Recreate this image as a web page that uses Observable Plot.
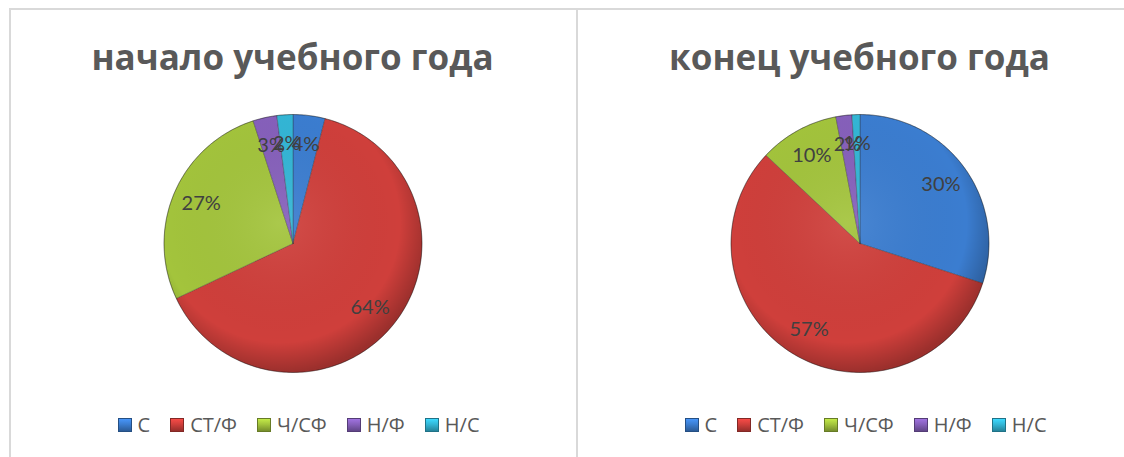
<!DOCTYPE html>
<html><head><meta charset="utf-8">
<script src="https://cdn.jsdelivr.net/npm/d3@7"></script>
<script src="https://cdn.jsdelivr.net/npm/@observablehq/plot@0.6"></script>
<style>
body{margin:0;background:#fff;width:1124px;height:457px;overflow:hidden;position:relative;font-family:"Open Sans",sans-serif}
.frame{position:absolute;left:9px;top:8px;width:1200px;height:460px;border-top:2px solid #d9d9d9;border-left:2px solid #d9d9d9;box-sizing:border-box}
.divider{position:absolute;left:576px;top:8px;width:2px;height:460px;background:#d9d9d9}
.panel{position:absolute;top:10px;width:567px;height:447px}
.title{position:absolute;top:29px;left:0;width:100%;text-align:center;font-weight:700;font-size:35px;line-height:36px;color:#595959;white-space:nowrap}
.chart{position:absolute;top:83px;left:0}
.legend{position:absolute;top:405px;left:6px;width:100%;display:flex;justify-content:center;align-items:center;font-size:20px;line-height:20px;color:#595959}
.item{display:flex;align-items:center;margin:0 10px}
.sw{width:14px;height:14px;margin-right:6px;box-sizing:border-box}
</style></head>
<body>
<div class="frame"></div>
<div class="divider"></div>
<div id="p0" class="panel" style="left:9px"></div>
<div id="p1" class="panel" style="left:576px"></div>
<script>
const categories = ["С", "СТ/Ф", "Ч/СФ", "Н/Ф", "Н/С"];
const startValues = [4, 64, 27, 3, 2];
const endValues = [30, 57, 10, 2, 1];
const titles = ["начало учебного года", "конец учебного года"];
const colors = ["#3b7dd0", "#cf3f3b", "#a3c43c", "#8660bb", "#33b6d6"];

const W = 567, H = 300, R = 129, RL = 100;

function pieChart(values) {
  const rows = categories.map((c, i) => ({cat: c, value: values[i]}));
  const arcs = d3.pie().sort(null).value(d => d.value)(rows);
  const pts = [];
  const labels = [];
  arcs.forEach(a => {
    const c = a.data.cat;
    pts.push({cat: c, x: 0, y: 0});
    const n = Math.max(2, Math.ceil((a.endAngle - a.startAngle) / (Math.PI / 180)));
    for (let k = 0; k <= n; k++) {
      const t = a.startAngle + (a.endAngle - a.startAngle) * k / n;
      pts.push({cat: c, x: R * Math.sin(t), y: R * Math.cos(t)});
    }
    pts.push({cat: c, x: 0, y: 0});
    const m = (a.startAngle + a.endAngle) / 2;
    labels.push({cat: c, x: RL * Math.sin(m), y: RL * Math.cos(m), text: a.data.value + "%"});
  });
  const gid = "shade" + values.join("");
  return Plot.plot({
    width: W, height: H, margin: 0,
    x: {domain: [-W / 2, W / 2], axis: null},
    y: {domain: [-H / 2, H / 2], axis: null},
    color: {domain: categories, range: colors},
    style: {background: "transparent", overflow: "visible"},
    marks: [
      () => {
        const svg = d3.create("svg:g");
        const defs = svg.append("defs");
        const g = defs.append("radialGradient").attr("id", gid).attr("cx", "45%").attr("cy", "42%").attr("r", "58%");
        g.append("stop").attr("offset", "0%").attr("stop-color", "#fff").attr("stop-opacity", 0.08);
        g.append("stop").attr("offset", "80%").attr("stop-color", "#000").attr("stop-opacity", 0.0);
        g.append("stop").attr("offset", "100%").attr("stop-color", "#000").attr("stop-opacity", 0.25);
        return svg.node();
      },
      Plot.line(pts, {x: "x", y: "y", z: "cat", fill: "cat", stroke: "rgba(40,40,40,0.45)", strokeWidth: 0.7, strokeLinejoin: "round"}),
      Plot.dot([{x: 0, y: 0}], {x: "x", y: "y", r: R, fill: `url(#${gid})`, stroke: "rgba(0,0,0,0.25)", strokeWidth: 1}),
      Plot.text(labels, {x: "x", y: "y", text: "text", fontSize: 20, fill: "#404040", fontFamily: "Lato, 'Open Sans', sans-serif"})
    ]
  });
}

[startValues, endValues].forEach((vals, i) => {
  const panel = document.getElementById("p" + i);
  const t = document.createElement("div");
  t.className = "title";
  t.textContent = titles[i];
  panel.appendChild(t);
  const chart = pieChart(vals);
  const wrap = document.createElement("div");
  wrap.className = "chart";
  wrap.appendChild(chart);
  panel.appendChild(wrap);
  const color = chart.scale("color");
  const leg = document.createElement("div");
  leg.className = "legend";
  categories.forEach((c, k) => {
    const it = document.createElement("div");
    it.className = "item";
    const sw = document.createElement("div");
    sw.className = "sw";
    const col = color.range[k];
    const dk = d3.color(col).darker(0.9).formatHex();
    const lt = d3.color(col).brighter(0.5).formatHex();
    sw.style.background = `linear-gradient(180deg, ${lt} 0%, ${col} 45%, ${dk} 100%)`;
    sw.style.border = `1px solid ${d3.color(col).darker(1.3).formatHex()}`;
    const tx = document.createElement("span");
    tx.textContent = c;
    it.appendChild(sw);
    it.appendChild(tx);
    leg.appendChild(it);
  });
  panel.appendChild(leg);
});
</script>
</body></html>
